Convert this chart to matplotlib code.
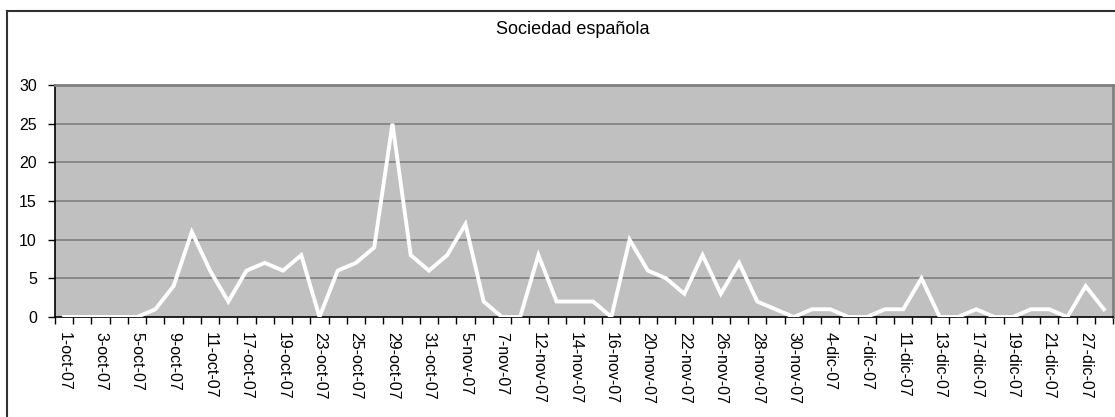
import numpy as np
import matplotlib.pyplot as plt
from matplotlib.lines import Line2D

plt.rcParams['font.family'] = ['Liberation Sans', 'DejaVu Sans']

# ---- dati ----
title = "Sociedad española"
tick_labels = ["1-oct-07", "3-oct-07", "5-oct-07", "9-oct-07", "11-oct-07",
               "17-oct-07", "19-oct-07", "23-oct-07", "25-oct-07", "29-oct-07",
               "31-oct-07", "5-nov-07", "7-nov-07", "12-nov-07", "14-nov-07",
               "16-nov-07", "20-nov-07", "22-nov-07", "26-nov-07", "28-nov-07",
               "30-nov-07", "4-dic-07", "7-dic-07", "11-dic-07", "13-dic-07",
               "17-dic-07", "19-dic-07", "21-dic-07", "27-dic-07"]
values = [0, 0, 0, 0, 0, 1, 4, 11, 6, 2,
          6, 7, 6, 8, 0, 6, 7, 9, 25, 8,
          6, 8, 12, 2, 0, 0, 8, 2, 2, 2,
          0, 10, 6, 5, 3, 8, 3, 7, 2, 1,
          0, 1, 1, 0, 0, 1, 1, 5, 0, 0,
          1, 0, 0, 1, 1, 0, 4, 1]
y_ticks = [0, 5, 10, 15, 20, 25, 30]

W, H = 1115, 417
fig = plt.figure(figsize=(W / 100, H / 100), dpi=100)
fig.patch.set_facecolor('white')

# cornice esterna del grafico
fig.add_artist(Line2D([7 / W, 7 / W], [0, (H - 11) / H], color='#303030', lw=1.5))
fig.add_artist(Line2D([7 / W, 1], [(H - 11) / H, (H - 11) / H], color='#303030', lw=1.5))

fig.text(573 / W, (H - 30) / H, title, ha='center', va='center', fontsize=13)

ax = fig.add_axes([55 / W, (H - 317) / H, (1113 - 55) / W, (317 - 85) / H])
ax.set_facecolor('#C0C0C0')

x = np.arange(len(values))
ax.plot(x, values, color='white', lw=2.8, solid_joinstyle='miter', zorder=3)

ax.set_xlim(-0.5, len(values) - 0.5)
ax.set_ylim(0, 30)
ax.set_yticks(y_ticks)
for yv in y_ticks[1:-1]:
    ax.axhline(yv, color='#808080', lw=1.2, zorder=1)

ax.set_xticks(x[::2])
ax.set_xticklabels(tick_labels, rotation=270, fontsize=11.5)
ax.tick_params(axis='x', which='major', length=0, pad=11)
ax.set_xticks(np.arange(-0.5, len(values), 1), minor=True)
ax.tick_params(axis='x', which='minor', length=5, width=1, color='black')
ax.tick_params(axis='y', length=5, width=1, pad=8, labelsize=11.5)

for s in ['left', 'bottom']:
    ax.spines[s].set_color('black')
    ax.spines[s].set_linewidth(1.2)
for s in ['top', 'right']:
    ax.spines[s].set_color('#808080')
    ax.spines[s].set_linewidth(2)

fig.savefig('out.png', dpi=100)
